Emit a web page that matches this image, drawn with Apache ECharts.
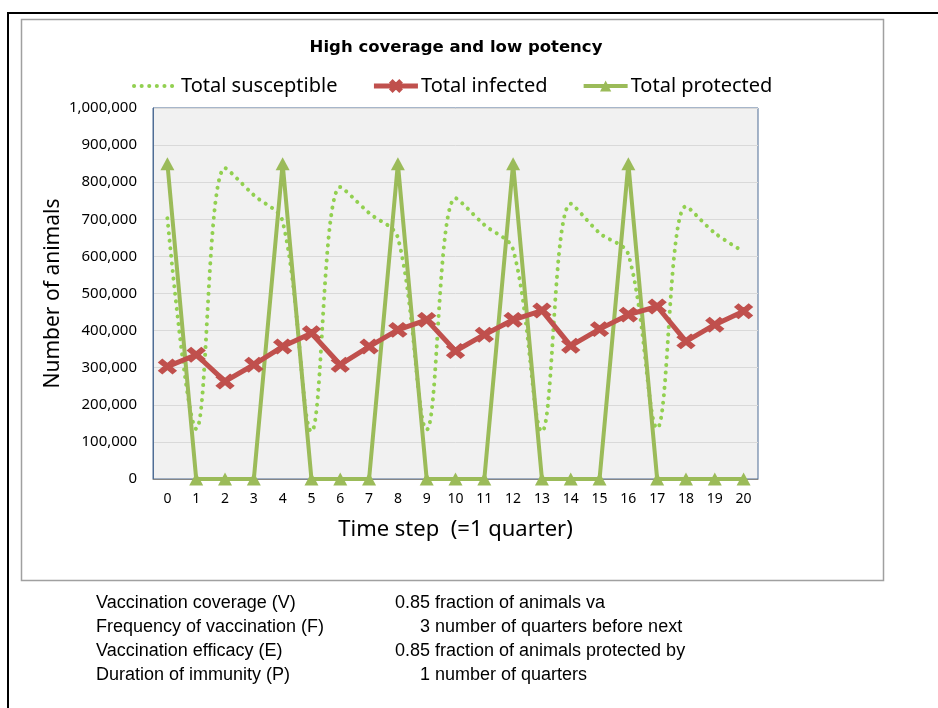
<!DOCTYPE html>
<html>
<head>
<meta charset="utf-8">
<script src="https://cdn.jsdelivr.net/npm/echarts@6/dist/echarts.min.js"></script>
<style>
html,body{margin:0;padding:0;background:#fff;}
#chart{width:938px;height:708px;}
</style>
</head>
<body>
<div id="chart"></div>
<script>
var steps = ['0','1','2','3','4','5','6','7','8','9','10','11','12','13','14','15','16','17','18','19','20'];
var susceptible = [703000, 135000, 838000, 765000, 694000, 128000, 787000, 717000, 650000, 133000, 757000, 685000, 618000, 128000, 742000, 663000, 605000, 137000, 735000, 663000, 613000];
var infected = [303000, 335000, 263000, 308000, 357000, 393000, 308000, 357000, 402000, 429000, 345000, 389000, 429000, 454000, 359000, 404000, 443000, 465000, 371000, 416000, 452000];
var protectedAnimals = [850000, 0, 0, 0, 850000, 0, 0, 0, 850000, 0, 0, 0, 850000, 0, 0, 0, 850000, 0, 0, 0, 0];
var yTicks = { min: 0, max: 1000000, interval: 100000 };
var paramNames = ['Vaccination coverage (V)', 'Frequency of vaccination (F)', 'Vaccination efficacy (E)', 'Duration of immunity (P)'];
var paramValues = ['0.85', '3', '0.85', '1'];
var paramNotes = ['fraction of animals va', 'number of quarters before next', 'fraction of animals protected by', 'number of quarters'];

var chart = echarts.init(document.getElementById('chart'), null, { renderer: 'canvas' });
var tickFont = '"Noto Sans", "Open Sans", sans-serif';
var noteFont = '"Liberation Sans", Arial, sans-serif';

var graphics = [
  { type: 'rect', shape: { x: 8, y: 13, width: 940, height: 710 }, style: { fill: 'none', stroke: '#000', lineWidth: 2 }, z: 100 },
  { type: 'rect', shape: { x: 21.5, y: 19.5, width: 862, height: 561 }, style: { fill: 'none', stroke: '#a0a0a0', lineWidth: 1.5 }, z: 100 }
];
for (var i = 0; i < paramNames.length; i++) {
  var yy = 603 + i * 24;
  graphics.push({ type: 'text', x: 96, y: yy, style: { text: paramNames[i], font: '18px ' + noteFont, fill: '#000', align: 'left', verticalAlign: 'middle' } });
  graphics.push({ type: 'text', x: 430, y: yy, style: { text: paramValues[i], font: '18px ' + noteFont, fill: '#000', align: 'right', verticalAlign: 'middle' } });
  graphics.push({ type: 'text', x: 435, y: yy, style: { text: paramNotes[i], font: '18px ' + noteFont, fill: '#000', align: 'left', verticalAlign: 'middle' } });
}

var xMarker = 'path://M2,0 L5,3 L8,0 L10,2 L7,5 L10,8 L8,10 L5,7 L2,10 L0,8 L3,5 L0,2 Z';

chart.setOption({
  animation: false,
  backgroundColor: '#fff',
  title: {
    text: 'High coverage and low potency',
    left: 451, top: 34, textAlign: 'center',
    textStyle: { fontFamily: '"DejaVu Sans", Verdana, sans-serif', fontWeight: 'bold', fontSize: 16.5, color: '#000' }
  },
  legend: {
    top: 71, left: 127,
    itemWidth: 44, itemHeight: 14, itemGap: 34,
    textStyle: { fontFamily: tickFont, fontSize: 20, color: '#000', padding: [0, 0, 0, -2] },
    data: [
      { name: 'Total susceptible', itemStyle: { opacity: 0 }, lineStyle: { width: 4, type: [0.1, 7.5], cap: 'round', color: '#92d050' } },
      { name: 'Total infected', lineStyle: { width: 5, color: '#c0504d' } },
      { name: 'Total protected', lineStyle: { width: 4, color: '#9bbb59' } }
    ]
  },
  grid: {
    left: 153, right: 180, top: 108, bottom: 229,
    show: true, backgroundColor: '#f1f1f1', borderColor: '#4f6d95', borderWidth: 1
  },
  xAxis: {
    type: 'category', data: steps, boundaryGap: true,
    name: 'Time step  (=1 quarter)', nameLocation: 'middle', nameGap: 40,
    nameTextStyle: { fontFamily: tickFont, fontSize: 22, color: '#000' },
    nameMoveOverlap: false,
    axisLine: { show: true, lineStyle: { color: '#868686', width: 1 } },
    axisTick: { show: false },
    axisLabel: { fontFamily: tickFont, fontSize: 14, color: '#000', margin: 13 }
  },
  yAxis: {
    type: 'value', min: yTicks.min, max: yTicks.max, interval: yTicks.interval,
    name: 'Number of animals', nameLocation: 'middle', nameGap: 89,
    nameMoveOverlap: false,
    nameTextStyle: { fontFamily: tickFont, fontSize: 21, color: '#000' },
    axisLine: { show: true, lineStyle: { color: '#4f6d95' } },
    axisTick: { show: false },
    splitLine: { lineStyle: { color: '#d9d9d9', width: 1 } },
    axisLabel: {
      fontFamily: tickFont, fontSize: 15, color: '#000', margin: 16,
      formatter: function (v) { return v.toLocaleString('en-US'); }
    }
  },
  series: [
    {
      name: 'Total susceptible', type: 'line', data: susceptible, smooth: 0.35,
      symbol: 'circle', showSymbol: false, z: 2,
      lineStyle: { color: '#92d050', width: 4, type: [0.1, 7.5], cap: 'round' },
      itemStyle: { color: '#92d050' }
    },
    {
      name: 'Total infected', type: 'line', data: infected,
      symbol: xMarker, symbolSize: [17, 14], z: 4,
      lineStyle: { color: '#c0504d', width: 5 },
      itemStyle: { color: '#c0504d', borderColor: '#c0504d', borderWidth: 1.5 }
    },
    {
      name: 'Total protected', type: 'line', data: protectedAnimals,
      symbol: 'triangle', symbolSize: [14, 13], z: 3,
      lineStyle: { color: '#9bbb59', width: 4 },
      itemStyle: { color: '#9bbb59' }
    }
  ],
  graphic: graphics
});
</script>
</body>
</html>
